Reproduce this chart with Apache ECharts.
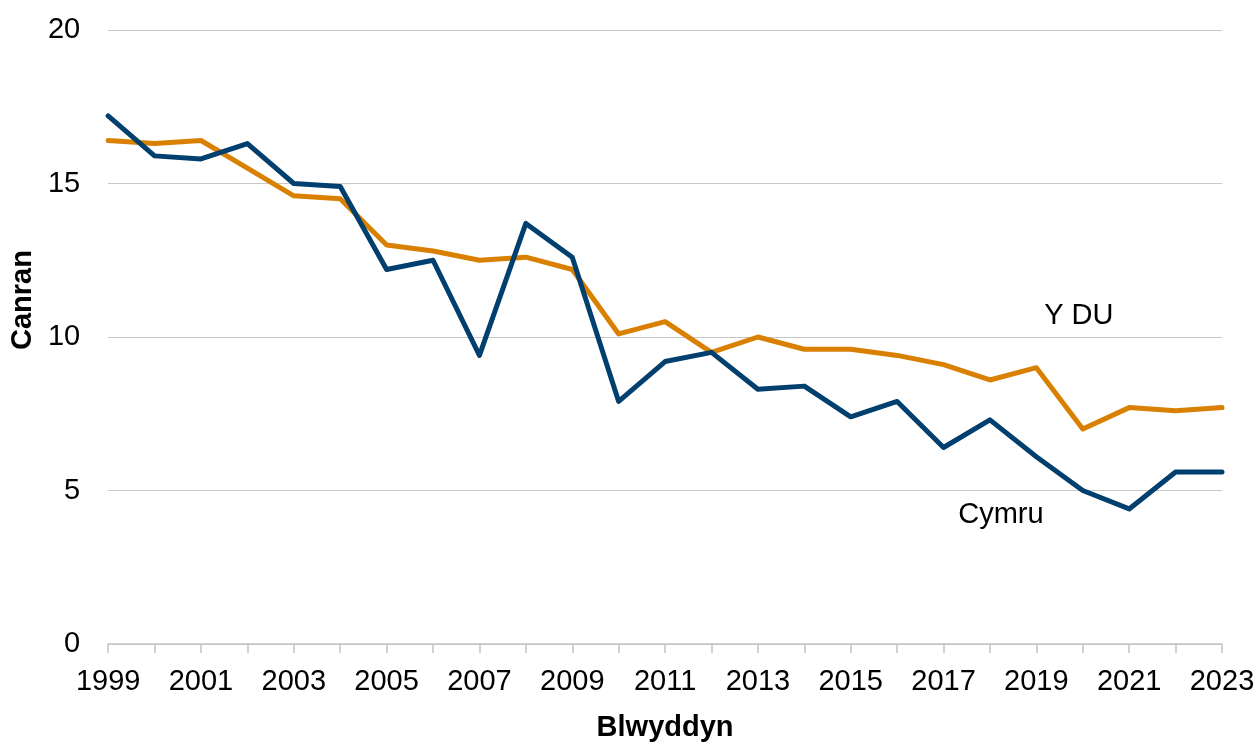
<!DOCTYPE html>
<html>
<head>
<meta charset="utf-8">
<script src="https://cdn.jsdelivr.net/npm/echarts@6/dist/echarts.min.js"></script>
<style>
html,body{margin:0;padding:0;background:#fff;}
#chart{width:1259px;height:747px;}
</style>
</head>
<body>
<div id="chart"></div>
<script>
const years = ['1999','2000','2001','2002','2003','2004','2005','2006','2007','2008','2009','2010','2011','2012','2013','2014','2015','2016','2017','2018','2019','2020','2021','2022','2023'];
const cymru = [17.2,15.9,15.8,16.3,15.0,14.9,12.2,12.5,9.4,13.7,12.6,7.9,9.2,9.5,8.3,8.4,7.4,7.9,6.4,7.3,6.1,5.0,4.4,5.6,5.6];
const ydu   = [16.4,16.3,16.4,15.5,14.6,14.5,13.0,12.8,12.5,12.6,12.2,10.1,10.5,9.5,10.0,9.6,9.6,9.4,9.1,8.6,9.0,7.0,7.7,7.6,7.7];
const seriesNames = ['Cymru','Y DU'];
const FONT = '"Liberation Sans", Arial, sans-serif';

const chart = echarts.init(document.getElementById('chart'), null, {renderer:'canvas'});
chart.setOption({
  animation:false,
  backgroundColor:'#ffffff',
  grid:{left:107,right:37,top:30,height:620,containLabel:false},
  xAxis:{
    type:'category',
    data:years,
    boundaryGap:false,
    name:'Blwyddyn',
    nameLocation:'middle',
    nameGap:69,
    nameTextStyle:{fontFamily:FONT,fontSize:29,fontWeight:'bold',color:'#000'},
    axisLine:{show:true,lineStyle:{color:'#c4c4c4',width:1.5}},
    axisTick:{show:true,interval:0,length:9,lineStyle:{color:'#c4c4c4',width:1.5}},
    axisLabel:{interval:1,margin:23,fontFamily:FONT,fontSize:29,color:'#000'},
    splitLine:{show:false}
  },
  yAxis:{
    type:'value',
    min:0,max:20,interval:5,
    name:'Canran',
    nameLocation:'middle',
    nameGap:62,
    nameTextStyle:{fontFamily:FONT,fontSize:29,fontWeight:'bold',color:'#000',padding:[0,0,0,74]},
    axisLine:{show:false},
    axisTick:{show:false},
    axisLabel:{margin:28,fontFamily:FONT,fontSize:29,color:'#000'},
    splitLine:{show:true,lineStyle:{color:'#c8c8c8',width:1.2}}
  },
  series:[
    {
      name:seriesNames[1],
      type:'line',
      data:ydu,
      symbol:'none',
      lineStyle:{color:'#d98000',width:5,join:'round',cap:'round'},
      itemStyle:{color:'#d98000'},
      z:2,
      markPoint:{
        symbol:'circle',symbolSize:0,
        data:[{coord:['2020',10.7],value:seriesNames[1]}],
        label:{show:true,formatter:seriesNames[1],position:'inside',offset:[-4,0],fontFamily:FONT,fontSize:29,color:'#000'}
      }
    },
    {
      name:seriesNames[0],
      type:'line',
      data:cymru,
      symbol:'none',
      lineStyle:{color:'#003f6e',width:5,join:'round',cap:'round'},
      itemStyle:{color:'#003f6e'},
      z:3,
      markPoint:{
        symbol:'circle',symbolSize:0,
        data:[{coord:['2018',4.2],value:seriesNames[0]}],
        label:{show:true,formatter:seriesNames[0],position:'inside',offset:[11,0],fontFamily:FONT,fontSize:29,color:'#000'}
      }
    }
  ]
});
</script>
</body>
</html>
